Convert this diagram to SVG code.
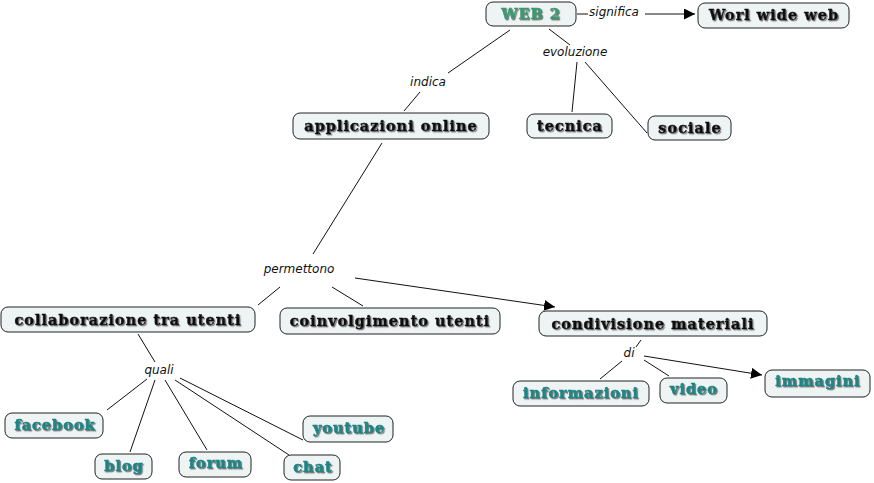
<svg xmlns="http://www.w3.org/2000/svg" width="874" height="483" viewBox="0 0 874 483">
<defs>
<style>
.n rect{fill:#eef4f4;stroke:#222;stroke-width:1;}
.n text{font-family:"DejaVu Serif",serif;font-weight:bold;font-size:14.5px;letter-spacing:1px;text-anchor:middle;fill:#111;stroke:#111;stroke-width:0.5;filter:url(#sh);}
.n text.g{fill:#3a9a72;stroke:#3a9a72;}
.n text.t{fill:#1a8585;stroke:#1a8585;}
.l{font-family:"DejaVu Sans",sans-serif;font-style:italic;font-size:12px;fill:#111;text-anchor:middle;}
.c line{stroke:#111;stroke-width:1;}
.c line.a{marker-end:url(#ar);}
</style>
<filter id="sh" x="-10%" y="-20%" width="120%" height="150%"><feDropShadow dx="1.2" dy="1.2" stdDeviation="0.4" flood-color="#777"/></filter>
<marker id="ar" viewBox="0 0 10 10" refX="10" refY="5" markerWidth="11" markerHeight="11" markerUnits="userSpaceOnUse" orient="auto"><path d="M0,0L10,5L0,10z" fill="#000"/></marker>
</defs>
<rect width="874" height="483" fill="#fff"/>
<g id="connectors" class="c">
<line x1="577" y1="14" x2="588" y2="14"/>
<line class="a" x1="645" y1="14" x2="695" y2="14"/>
<line x1="510" y1="30" x2="448" y2="73"/>
<line x1="420" y1="92" x2="404" y2="111"/>
<line x1="549" y1="29" x2="570" y2="45"/>
<line x1="577" y1="62" x2="572" y2="112"/>
<line x1="585" y1="62" x2="647" y2="133"/>
<line x1="382" y1="143" x2="313" y2="254"/>
<line x1="280" y1="287" x2="258" y2="305"/>
<line x1="332" y1="287" x2="363" y2="306"/>
<line class="a" x1="355" y1="278" x2="555" y2="307"/>
<line x1="138" y1="334" x2="155" y2="362"/>
<line x1="147" y1="379" x2="107" y2="410"/>
<line x1="155" y1="380" x2="130" y2="452"/>
<line x1="165" y1="380" x2="207" y2="450"/>
<line x1="175" y1="380" x2="289" y2="455"/>
<line x1="180" y1="378" x2="303" y2="440"/>
<line x1="641" y1="340" x2="636" y2="347"/>
<line x1="622" y1="361" x2="600" y2="379"/>
<line x1="644" y1="360" x2="669" y2="376"/>
<line class="a" x1="644" y1="356" x2="762" y2="375"/>
</g>
<g id="labels">
<text class="l" x="614" y="16">significa</text>
<text class="l" x="575" y="56">evoluzione</text>
<text class="l" x="428" y="86">indica</text>
<text class="l" x="299" y="273">permettono</text>
<text class="l" x="159" y="374">quali</text>
<text class="l" x="629" y="357">di</text>
</g>
<g id="web2" class="n"><rect x="486" y="2" width="90" height="24" rx="7"/><text class="g" x="531" y="19">WEB 2</text></g>
<g id="www" class="n"><rect x="698" y="3" width="151" height="25" rx="7"/><text x="774" y="20">Worl wide web</text></g>
<g id="applicazioni" class="n"><rect x="293" y="113" width="196" height="26" rx="7"/><text x="391" y="131">applicazioni online</text></g>
<g id="tecnica" class="n"><rect x="527" y="114" width="85" height="24" rx="7"/><text x="570" y="131">tecnica</text></g>
<g id="sociale" class="n"><rect x="648" y="116" width="83" height="24" rx="7"/><text x="690" y="133">sociale</text></g>
<g id="collaborazione" class="n"><rect x="1" y="307" width="254" height="25" rx="7"/><text x="128" y="325">collaborazione tra utenti</text></g>
<g id="coinvolgimento" class="n"><rect x="280" y="308" width="220" height="26" rx="7"/><text x="390" y="326">coinvolgimento utenti</text></g>
<g id="condivisione" class="n"><rect x="539" y="311" width="228" height="25" rx="7"/><text x="653" y="329">condivisione materiali</text></g>
<g id="informazioni" class="n"><rect x="513" y="381" width="136" height="25" rx="7"/><text class="t" x="581" y="398">informazioni</text></g>
<g id="video" class="n"><rect x="660" y="378" width="67" height="25" rx="7"/><text class="t" x="694" y="394">video</text></g>
<g id="immagini" class="n"><rect x="765" y="370" width="105" height="27" rx="7"/><text class="t" x="818" y="386">immagini</text></g>
<g id="facebook" class="n"><rect x="5" y="413" width="98" height="25" rx="7"/><text class="t" x="55" y="430">facebook</text></g>
<g id="youtube" class="n"><rect x="303" y="416" width="90" height="26" rx="7"/><text class="t" x="349" y="433">youtube</text></g>
<g id="blog" class="n"><rect x="95" y="454" width="57" height="25" rx="7"/><text class="t" x="124" y="471">blog</text></g>
<g id="forum" class="n"><rect x="179" y="452" width="72" height="25" rx="7"/><text class="t" x="216" y="468">forum</text></g>
<g id="chat" class="n"><rect x="284" y="455" width="56" height="25" rx="7"/><text class="t" x="313" y="472">chat</text></g>
</svg>
